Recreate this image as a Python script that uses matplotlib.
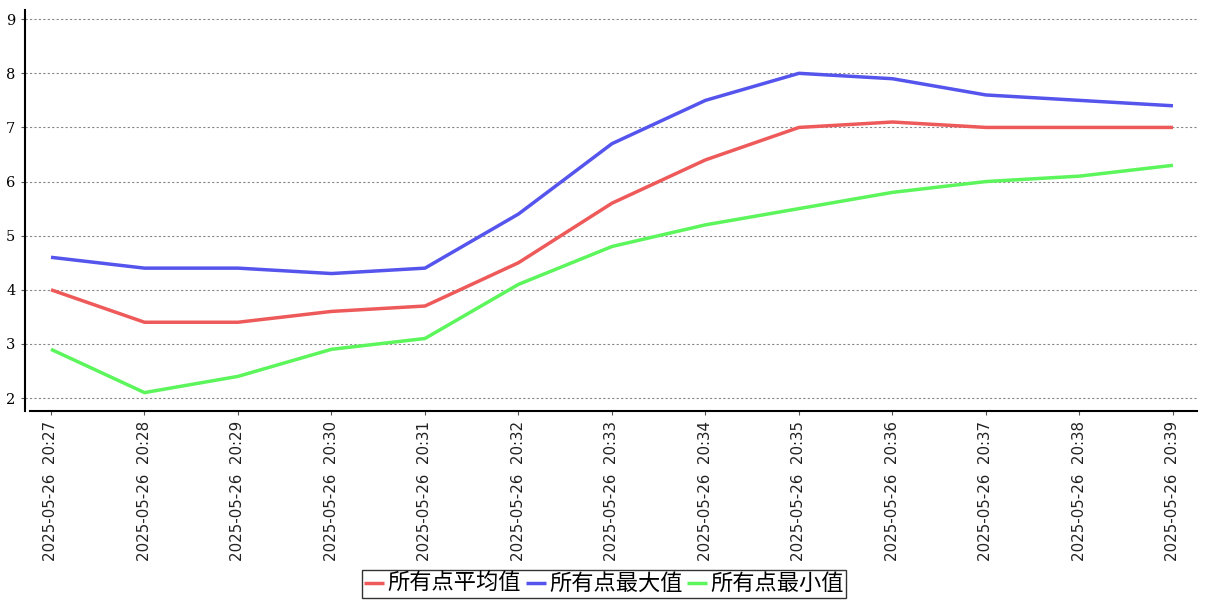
import matplotlib
matplotlib.use('Agg')
import matplotlib.pyplot as plt
import numpy as np

plt.rcParams['font.family'] = ['DejaVu Sans', 'Noto Sans CJK SC']

# data
times = ["20:27", "20:28", "20:29", "20:30", "20:31", "20:32", "20:33",
         "20:34", "20:35", "20:36", "20:37", "20:38", "20:39"]
labels = ["2025-05-26  " + t for t in times]
avg_vals = [4.0, 3.4, 3.4, 3.6, 3.7, 4.5, 5.6, 6.4, 7.0, 7.1, 7.0, 7.0, 7.0]
max_vals = [4.6, 4.4, 4.4, 4.3, 4.4, 5.4, 6.7, 7.5, 8.0, 7.9, 7.6, 7.5, 7.4]
min_vals = [2.9, 2.1, 2.4, 2.9, 3.1, 4.1, 4.8, 5.2, 5.5, 5.8, 6.0, 6.1, 6.3]
series_names = ["所有点平均值", "所有点最大值", "所有点最小值"]
colors = ["#ee5a5a", "#5555ee", "#5cf55c"]

W, H = 1207, 600
fig = plt.figure(figsize=(W / 100, H / 100), dpi=100, facecolor="white")
ax = fig.add_axes([25 / W, 1 - 411 / H, (1197 - 25) / W, (411 - 10) / H])

x = np.arange(len(times))
for vals, name, c in zip([avg_vals, max_vals, min_vals], series_names, colors):
    ax.plot(x, vals, color=c, linewidth=2.5, label=name, solid_capstyle="butt")

ax.set_xlim(-0.278, len(times) - 1 + 0.257)
ax.set_ylim(1.76, 9.17)
ax.set_yticks(range(2, 10))
ax.set_yticklabels([str(v) for v in range(2, 10)], family="DejaVu Serif", fontsize=10.5)
ax.set_xticks(x)
ax.set_xticklabels(labels, rotation=90, fontsize=10.8, color="#222222")
ax.tick_params(axis="both", length=3, width=0.8, color="#555555", pad=4)

ax.grid(axis="y", linestyle=(0, (2, 2)), color="#888888", linewidth=0.8)
ax.spines["top"].set_visible(False)
ax.spines["right"].set_visible(False)
ax.spines["left"].set_linewidth(1.5)
ax.spines["bottom"].set_linewidth(1.5)
ax.spines["bottom"].set_bounds(-0.225, len(times) - 1 + 0.257)

leg = fig.legend(loc="lower center", bbox_to_anchor=(604 / W, 2 / H), ncol=3,
                 prop={"family": ["Noto Sans CJK SC", "DejaVu Sans"], "size": 16},
                 frameon=True, fancybox=False, handlelength=0.9, handletextpad=0.15,
                 columnspacing=0.2, borderpad=0.12, borderaxespad=0)
leg.get_frame().set_edgecolor("black")
leg.get_frame().set_linewidth(1.0)

plt.savefig("out.png", dpi=100, facecolor="white")
